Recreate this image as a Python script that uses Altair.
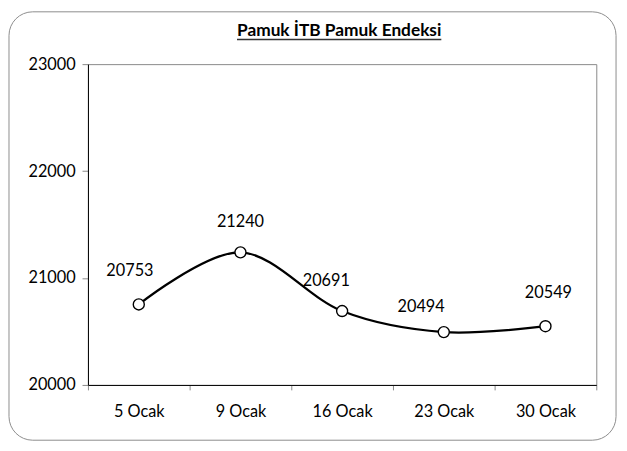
import altair as alt
import pandas as pd

categories = ["5 Ocak", "9 Ocak", "16 Ocak", "23 Ocak", "30 Ocak"]
values = [20753, 21240, 20691, 20494, 20549]
y_ticks = [20000, 21000, 22000, 23000]
title_text = "Pamuk İTB Pamuk Endeksi"

df = pd.DataFrame({"tarih": categories, "deger": values})

W, H = 515, 325
FONT = "Lato"
FS = 16.5
FW = "normal"

xenc = alt.X("tarih:N", sort=categories, title=None,
             scale=alt.Scale(type="band", paddingInner=0, paddingOuter=0),
             axis=alt.Axis(labelAngle=0, tickBand="extent", domainColor="black",
                           tickColor="#888888", tickSize=5, labelPadding=14,
                           labelFont=FONT, labelFontSize=FS, labelFontWeight=FW,
                           labelColor="black", grid=False))
yenc = alt.Y("deger:Q", title=None,
             scale=alt.Scale(domain=[20000, 23000], nice=False, zero=False),
             axis=alt.Axis(values=y_ticks, format="d", domainColor="black",
                           tickColor="#888888", tickSize=6, labelPadding=7,
                           labelFont=FONT, labelFontSize=FS, labelFontWeight=FW,
                           labelColor="black", grid=False))

base = alt.Chart(df)

line = base.mark_line(interpolate="cardinal", tension=0, color="black",
                      strokeWidth=2.3).encode(x=xenc, y=yenc)
pts = base.mark_point(shape="circle", filled=True, fill="white", stroke="black",
                      strokeWidth=1.4, size=125, opacity=1).encode(x=xenc, y=yenc)

# per-label offsets (dx, dy) in pixels, as placed in the reference
offsets = [(-9, -34), (0, -31), (-16, -30), (-23, -25), (3, -34)]
label_layers = []
for cat, (dx, dy) in zip(categories, offsets):
    label_layers.append(
        base.transform_filter(alt.datum.tarih == cat)
        .mark_text(font=FONT, fontSize=FS, fontWeight=FW, color="black",
                   dx=dx, dy=dy, baseline="middle")
        .encode(x=xenc, y=yenc, text=alt.Text("deger:Q", format="d"))
    )

one = pd.DataFrame({"a": [0]})
border = alt.Chart(one).mark_rect(fill=None, stroke="#8c8c8c", strokeWidth=1,
                                  cornerRadius=24).encode(
    x=alt.value(-80), x2=alt.value(535), y=alt.value(-53), y2=alt.value(381))

title = alt.Chart(pd.DataFrame({"t": [title_text]})).mark_text(
    font=FONT, fontSize=17.5, fontWeight="bold", color="black",
    baseline="alphabetic"
).encode(x=alt.value(254.5), y=alt.value(-29), text="t:N")

underline = alt.Chart(one).mark_rule(color="#333333", strokeWidth=1.5).encode(
    x=alt.value(151), x2=alt.value(358), y=alt.value(-25))

chart = alt.layer(border, title, underline, line, pts, *label_layers).properties(
    width=W, height=H,
    padding={"left": 81, "top": 54, "right": 23, "bottom": 60},
    autosize=alt.AutoSizeParams(type="none"),
    background="white",
).configure_view(stroke="#888888", strokeWidth=1)

chart.save("out.html", embed_options={"renderer": "svg", "actions": False})
